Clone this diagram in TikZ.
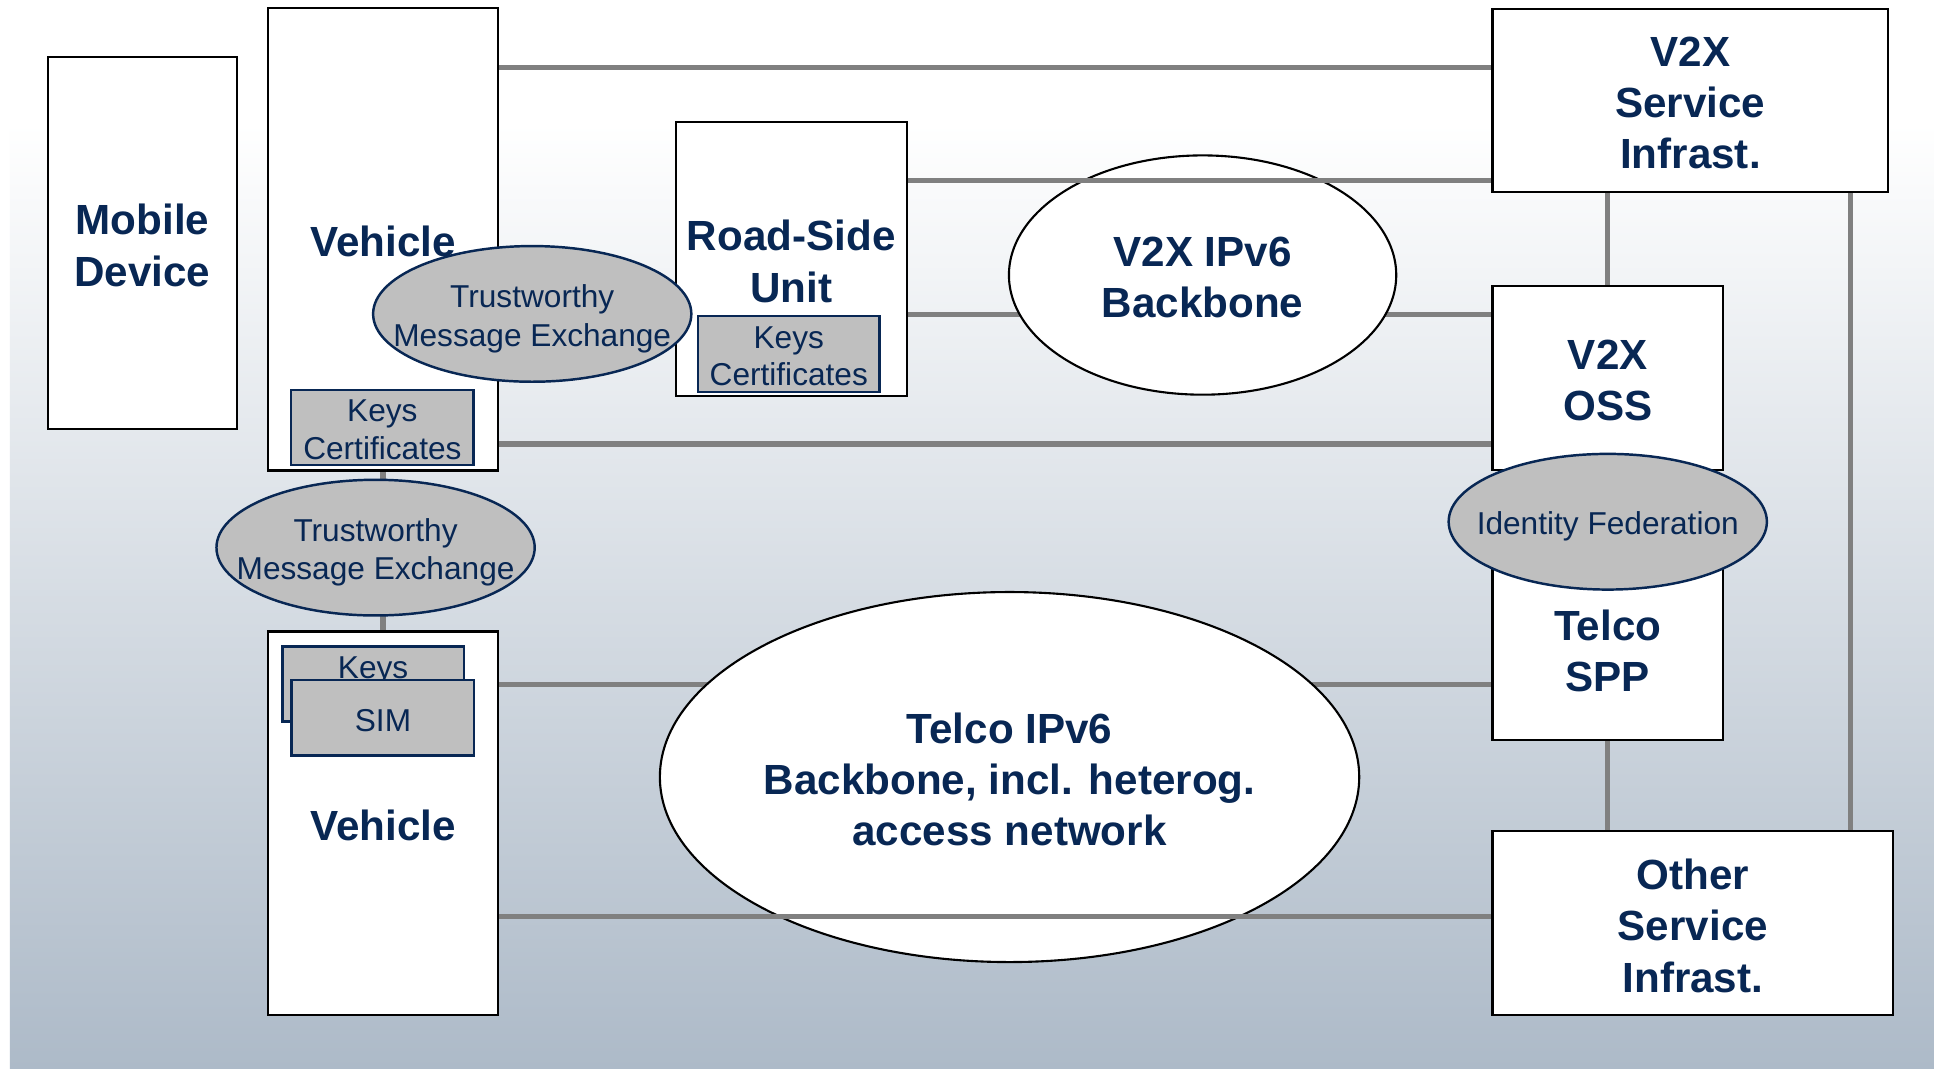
\documentclass[tikz,border=0pt]{standalone}
\usepackage{fontspec}
\setmainfont{Liberation Sans}
\usetikzlibrary{shapes.geometric,calc}
\pgfdeclarelayer{bg}
\pgfdeclarelayer{back}
\pgfsetlayers{bg,back,main}
\newlength\pxu
\setlength\pxu{0.12334mm}
\definecolor{navy}{RGB}{8,39,84}
\definecolor{wiregray}{RGB}{128,128,128}
\definecolor{chip}{RGB}{191,191,191}
\definecolor{bgbot}{RGB}{173,186,200}
\tikzset{
  sz/.style 2 args={minimum width=#1\pxu, minimum height=#2\pxu},
  box/.style={draw=black, line width=0.6pt, fill=white, inner sep=0pt},
  chipbox/.style={draw=navy, line width=0.7pt, fill=chip, inner sep=0pt},
  netell/.style={ellipse, draw=black, line width=0.6pt, fill=white, inner sep=0pt},
  trust/.style={ellipse, draw=navy, line width=0.7pt, fill=chip, inner sep=0pt},
  bigtext/.style={text=navy, align=center, font=\fontsize{12}{14.6}\selectfont\bfseries,
    inner sep=0pt, yshift=-2\pxu},
  chiptext/.style={text=navy, align=center, font=\fontsize{9}{10.7}\selectfont,
    inner sep=0pt, yshift=-2\pxu},
  trusttext/.style={text=navy, align=center, font=\fontsize{9}{10.9}\selectfont,
    inner sep=0pt, yshift=-4\pxu},
  link/.style={draw=wiregray, line width=1.5pt},
}
\begin{document}
\begin{tikzpicture}[x=0.12334mm, y=-0.12334mm]
\useasboundingbox (0,0) rectangle (1568,866);

% page background: white top fading to a blue-grey bottom
\begin{pgfonlayer}{bg}
  \fill[white] (0,0) rectangle (1568,866);
  \shade[top color=white, bottom color=bgbot] (8,100) rectangle (1568,866);
\end{pgfonlayer}

% row and column positions of the wires
\coordinate (rA) at (0,55);
\coordinate (rB) at (0,146.5);
\coordinate (rC) at (0,255);
\coordinate (rD) at (0,360);
\coordinate (rH) at (0,555);
\coordinate (rI) at (0,743);
\coordinate (colF) at (1500,0);

% entities
\node[box, sz={153}{302}] (mob) at (115.5,197) {};
\node[bigtext] (mobt) at (mob) {Mobile\\Device};
\node[box, sz={187}{375}] (vtop) at (310.5,194) {};
\node[bigtext] (vtopt) at (vtop) {Vehicle};
\node[box, sz={187}{222}] (rsu) at (641.5,210) {};
\node[bigtext] (rsut) at (rsu) {Road-Side\\Unit};
\node[box, sz={321}{149}] (vsi) at (1370.5,81.5) {};
\node[bigtext] (vsit) at (vsi) {V2X\\Service\\Infrast.};
\node[box, sz={187}{149}] (voss) at (1303.5,306.5) {};
\node[bigtext] (vosst) at (voss) {V2X\\OSS};
\node[box, sz={187}{149}] (spp) at (1303.5,525.5) {};
\node[bigtext] (sppt) at (spp) {Telco\\SPP};
\node[box, sz={325}{149}] (osi) at (1372.5,748.5) {};
\node[bigtext] (osit) at (osi) {Other\\Service\\Infrast.};
\node[box, sz={187}{311}] (vbot) at (310.5,667.5) {};
\node[bigtext] (vbott) at (vbot) {Vehicle};

% credential stores
\node[chipbox, sz={148}{61}] (kc1) at (310,346.5) {};
\node[chiptext] (kc1t) at (kc1) {Keys\\Certificates};
\node[chipbox, sz={147}{62}] (kc2) at (639.5,287) {};
\node[chiptext] (kc2t) at (kc2) {Keys\\Certificates};
\node[chipbox, sz={147}{61}] (keysb) at (302.5,554.5) {};
\node[chiptext] (keyst) at ($(keysb.north)+(0,19)$) {Keys};
\node[chipbox, sz={148}{61}] (sim) at (310.5,582) {};
\node[chiptext] (simt) at (sim) {SIM};

% trust relations and networks
\node[trust, sz={258}{110}] (tme1) at (431.5,254.5) {};
\node[trusttext] (tme1t) at (tme1) {Trustworthy\\Message Exchange};
\node[trust, sz={258}{110}] (tme2) at (304.5,444) {};
\node[trusttext] (tme2t) at (tme2) {Trustworthy\\Message Exchange};
\node[netell, sz={314}{194}] (v2xbb) at (975,223) {};
\node[bigtext] (v2xbbt) at (v2xbb) {V2X IPv6\\Backbone};
\node[trust, sz={258}{110}] (idf) at (1303.5,423) {};
\node[trusttext] (idft) at (idf) {Identity Federation};
\node[netell, sz={567}{300}] (telbb) at (818.5,630) {};
\node[bigtext] (telbbt) at (telbb) {Telco IPv6\\Backbone, incl. heterog.\\access network};

% wires passing behind the ellipses
\begin{pgfonlayer}{back}
  \draw[link] (rsu.east |- rC) -- (voss.west |- rC);
  \draw[link] (vbot.east |- rH) -- (spp.west |- rH);
  \draw[link] (vtop.south) -- (vtop.south |- tme2.center);
  \draw[link] (vbot.north) -- (vbot.north |- tme2.center);
\end{pgfonlayer}

% wires drawn on top
\draw[link] (vtop.east |- rA) -- (vsi.west |- rA);
\draw[link] (rsu.east |- rB) -- (vsi.west |- rB);
\draw[link] (vtop.east |- rD) -- (voss.west |- rD);
\draw[link] (vbot.east |- rI) -- (osi.west |- rI);
\draw[link] (vsi.south -| voss.north) -- (voss.north);
\draw[link] (vsi.south -| colF) -- (osi.north -| colF);
\draw[link] (spp.south) -- (osi.north -| spp.south);
\end{tikzpicture}
\end{document}
